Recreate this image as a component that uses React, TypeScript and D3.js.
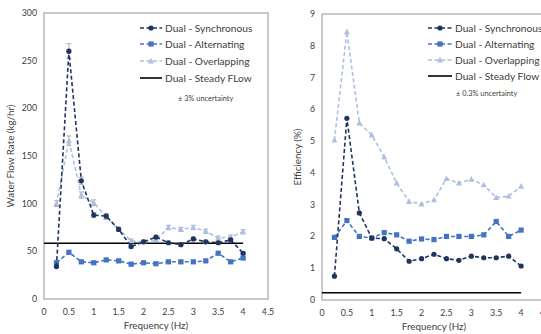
import React from "react";
import { scaleLinear, line, range } from "d3";

const freqs = [0.25, 0.5, 0.75, 1, 1.25, 1.5, 1.75, 2, 2.25, 2.5, 2.75, 3, 3.25, 3.5, 3.75, 4];

const flowSync = [34, 260, 124, 88, 87, 73, 55, 60, 65, 59, 57, 63, 60, 59, 62, 48];
const flowAlt = [38, 49, 39, 38, 41, 40, 36.5, 38, 37, 39, 39, 39, 40, 48, 39, 43];
const flowOver = [100, 166, 109, 101, 86, 73, 61, 60, 62, 75, 73, 75, 71, 64, 65, 70.5];
const flowSteady = 58.5;

const effSync = [0.75, 5.72, 2.74, 1.95, 1.93, 1.61, 1.22, 1.3, 1.44, 1.3, 1.25, 1.38, 1.33, 1.33, 1.38, 1.07];
const effAlt = [1.97, 2.5, 2.0, 1.95, 2.12, 2.05, 1.85, 1.92, 1.9, 2.0, 2.0, 2.0, 2.05, 2.47, 2.0, 2.2];
const effOver = [5.03, 8.44, 5.57, 5.19, 4.5, 3.68, 3.1, 3.02, 3.15, 3.82, 3.68, 3.8, 3.62, 3.22, 3.27, 3.58];
const effSteady = 0.23;

const xTicks = [0, 0.5, 1, 1.5, 2, 2.5, 3, 3.5, 4, 4.5];
const flowTicks = [0, 50, 100, 150, 200, 250, 300];
const effTicks = [0, 1, 2, 3, 4, 5, 6, 7, 8, 9];

const legendNames = ["Dual - Synchronous", "Dual - Alternating", "Dual - Overlapping"];

const C_SYNC = "#1f3560";
const C_ALT = "#4472c4";
const C_OVER = "#adbfe3";
const FONT = "Lato, 'Open Sans', sans-serif";
const TXT = "#404040";

const Marker = ({ kind, x, y, color }) => {
  if (kind === "circle") return <circle cx={x} cy={y} r={2.6} fill={color} />;
  if (kind === "square") return <rect x={x - 2.6} y={y - 2.6} width={5.2} height={5.2} fill={color} />;
  return <path d={`M${x},${y - 3.2}L${x + 3},${y + 2.4}L${x - 3},${y + 2.4}Z`} fill={color} />;
};

const Panel = ({ left, top, right, bottom, yMax, yTicks, series, steady, steadyName, yTitle, titleX, errPct, legend, note }) => {
  const x = scaleLinear().domain([0, 4.5]).range([left, right]);
  const y = scaleLinear().domain([0, yMax]).range([bottom, top]);
  const path = line<[number, number]>().x((d) => x(d[0])).y((d) => y(d[1]));
  const kinds = ["circle", "square", "triangle"];
  const colors = [C_SYNC, C_ALT, C_OVER];
  const order = [2, 1, 0];
  return (
    <g fontFamily={FONT}>
      <rect x={left} y={top} width={right - left} height={bottom - top} fill="none" stroke="#a6a6a6" strokeWidth={1.2} />
      {yTicks.map((t) => (
        <text key={t} x={left - 7} y={y(t) + 3} textAnchor="end" fontSize={8.8} fill={TXT}>{t}</text>
      ))}
      {xTicks.map((t) => (
        <text key={t} x={x(t)} y={bottom + 16} textAnchor="middle" fontSize={8.8} fill={TXT}>{t}</text>
      ))}
      <text x={(left + x(4.5)) / 2} y={bottom + 30} textAnchor="middle" fontSize={9.8} fill={TXT}>Frequency (Hz)</text>
      <text transform={`translate(${titleX},${(top + bottom) / 2}) rotate(-90)`} textAnchor="middle" fontSize={9.8} fill={TXT}>{yTitle}</text>
      <line x1={x(0)} x2={x(4)} y1={y(steady)} y2={y(steady)} stroke="#000" strokeWidth={1.6} />
      {order.map((i) => {
        const vals = series[i];
        const pts = freqs.map((f, j) => [f, vals[j]] as [number, number]);
        return (
          <g key={i}>
            {errPct > 0 && pts.map((p, j) => {
              const e = p[1] * errPct;
              return (
                <g key={j} stroke="#9a9a9a" strokeWidth={0.8}>
                  <line x1={x(p[0])} x2={x(p[0])} y1={y(p[1] - e)} y2={y(p[1] + e)} />
                  <line x1={x(p[0]) - 2.5} x2={x(p[0]) + 2.5} y1={y(p[1] + e)} y2={y(p[1] + e)} />
                  <line x1={x(p[0]) - 2.5} x2={x(p[0]) + 2.5} y1={y(p[1] - e)} y2={y(p[1] - e)} />
                </g>
              );
            })}
            <path d={path(pts) ?? ""} fill="none" stroke={colors[i]} strokeWidth={1.6} strokeDasharray="4,2.5" />
            {pts.map((p, j) => (
              <Marker key={j} kind={kinds[i]} x={x(p[0])} y={y(p[1])} color={colors[i]} />
            ))}
          </g>
        );
      })}
      {range(4).map((i) => {
        const ly = legend.rows[i];
        const x1 = legend.x;
        const x2 = legend.x + legend.w;
        return (
          <g key={i}>
            {i < 3 ? (
              <>
                <line x1={x1} x2={x2} y1={ly} y2={ly} stroke={colors[i]} strokeWidth={1.6} strokeDasharray="4,2.5" />
                <Marker kind={kinds[i]} x={(x1 + x2) / 2} y={ly} color={colors[i]} />
              </>
            ) : (
              <line x1={x1} x2={x2} y1={ly} y2={ly} stroke="#000" strokeWidth={1.6} />
            )}
            <text x={x2 + 3} y={ly + 3.5} fontSize={10.2} fill={TXT}>{i < 3 ? legendNames[i] : steadyName}</text>
          </g>
        );
      })}
      <text x={note.x} y={note.y} fontSize={7.4} fill={TXT}>{note.text}</text>
    </g>
  );
};

export default function App() {
  return (
    <svg width={541} height={334} style={{ position: "absolute", left: 0, top: 0, background: "#fff" }}>
      <rect width={541} height={334} fill="#fff" />
      <Panel
        left={44} top={13} right={268} bottom={299}
        yMax={300} yTicks={flowTicks}
        series={[flowSync, flowAlt, flowOver]}
        steady={flowSteady} steadyName="Dual - Steady FLow"
        yTitle="Water Flow Rate (kg/hr)" titleX={14}
        errPct={0.03}
        legend={{ x: 140, w: 22, rows: [28, 44, 61, 78] }}
        note={{ x: 178, y: 101, text: "± 3% uncertainty" }}
      />
      <rect x={280} y={0} width={261} height={334} fill="#fff" />
      <Panel
        left={322} top={14} right={546} bottom={300}
        yMax={9} yTicks={effTicks}
        series={[effSync, effAlt, effOver]}
        steady={effSteady} steadyName="Dual - Steady Flow"
        yTitle="Efficiency (%)" titleX={301}
        errPct={0}
        legend={{ x: 428, w: 24, rows: [28, 44, 60, 76] }}
        note={{ x: 456, y: 96, text: "± 0.3% uncertainty" }}
      />
    </svg>
  );
}
